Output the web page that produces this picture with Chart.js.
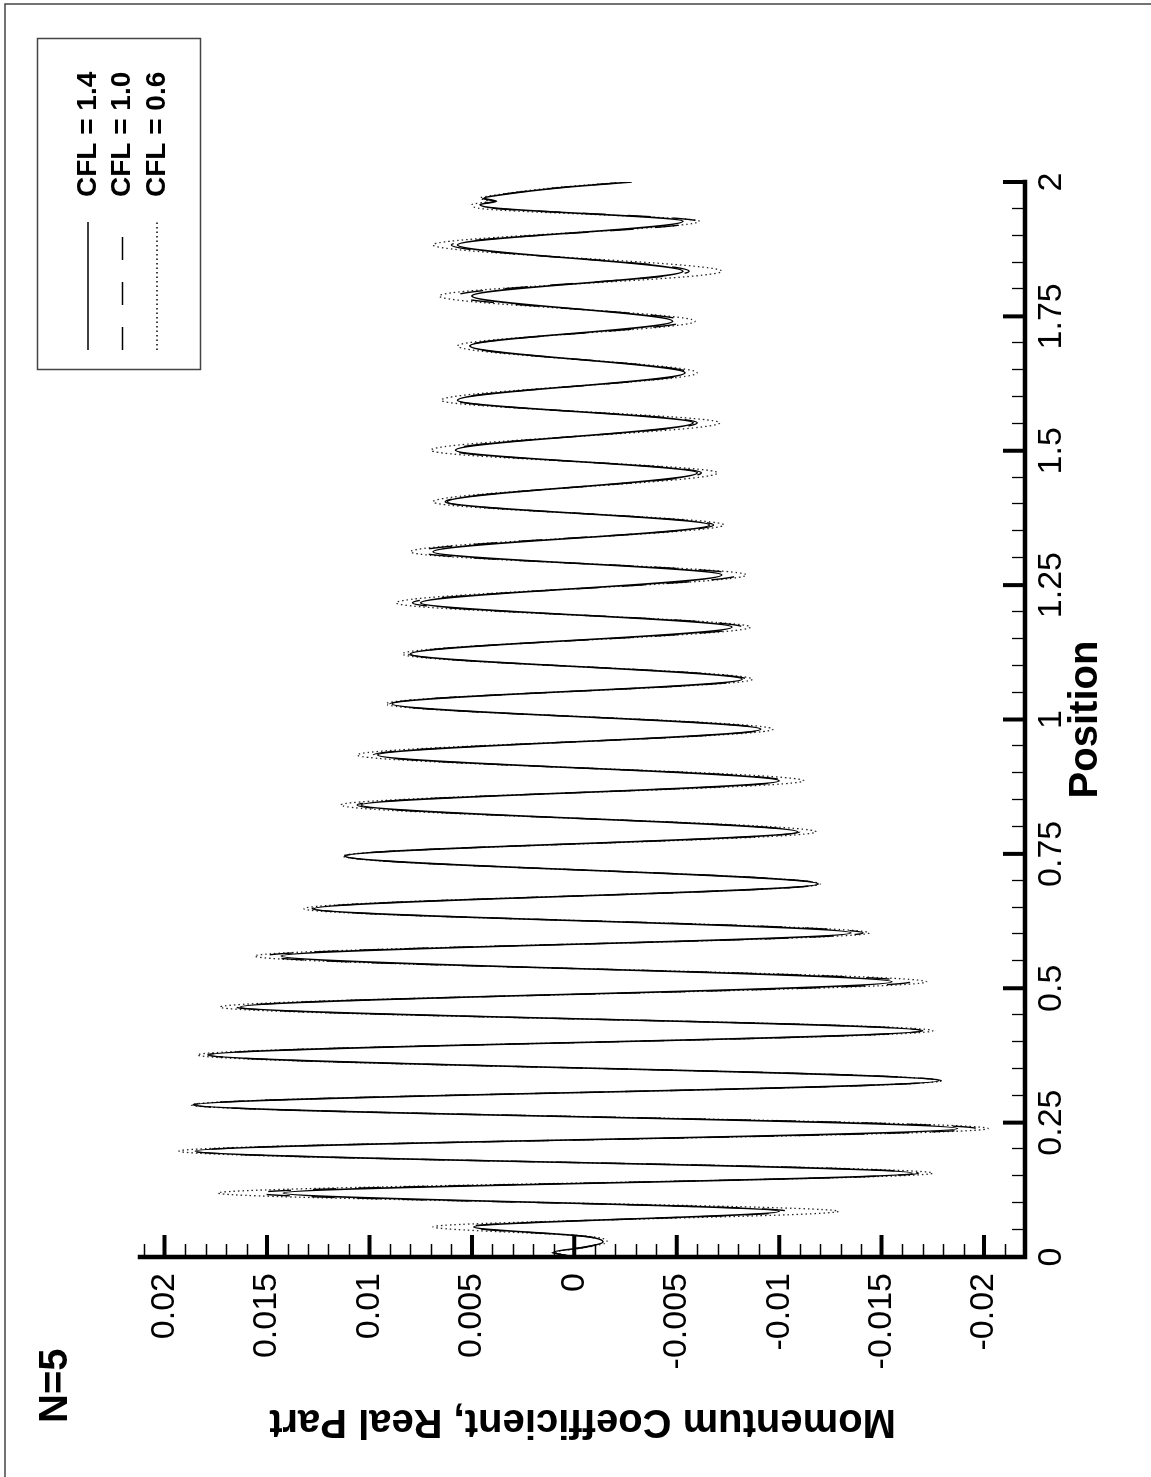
<!DOCTYPE html>
<html>
<head>
<meta charset="utf-8">
<title>Momentum Coefficient, N=5</title>
<script src="https://cdn.jsdelivr.net/npm/chart.js@4.4.0/dist/chart.umd.min.js"></script>
<style>
    html, body { margin: 0; padding: 0; background: #fff; }
    body { width: 1151px; height: 1477px; overflow: hidden; position: relative; }
    /* the chart is drawn landscape and turned a quarter turn */
    div.GraficoMomento { position: absolute; left: 0; top: 0; width: 1477px; height: 1151px;
        transform-origin: 0 0; transform: translate(0, 1477px) rotate(-90deg); }
</style>
</head>
<body>
<div class="GraficoMomento"><canvas id="GraficoMomento" width="1477" height="1151"></canvas></div>
<script>
var posicoes = [0, 0.009, 0.018, 0.028, 0.038,
    0.056, 0.085, 0.119, 0.156, 0.197, 0.239, 0.283, 0.328, 0.376, 0.421,
    0.465, 0.512, 0.560, 0.603, 0.648, 0.694, 0.746, 0.791, 0.841, 0.886,
    0.934, 0.982, 1.029, 1.075, 1.122, 1.172, 1.217, 1.269, 1.312, 1.362,
    1.405, 1.459, 1.501, 1.552, 1.594, 1.645, 1.695, 1.741, 1.788, 1.834,
    1.883, 1.927, 1.952, 1.958, 1.964, 1.970, 1.976, 1.990, 2.0];

var cfl14 = [0, 0.0010, -0.0005, -0.0014, -0.0006,
    0.0049, -0.0100, 0.0142, -0.0165, 0.0185, -0.0187, 0.0185, -0.0178, 0.0178, -0.0169,
    0.0163, -0.0155, 0.0143, -0.0135, 0.0127, -0.0119, 0.0112, -0.0109, 0.0104, -0.0100,
    0.0096, -0.0091, 0.0089, -0.0082, 0.0080, -0.0077, 0.0075, -0.0072, 0.0069, -0.0066,
    0.0062, -0.0060, 0.0058, -0.0058, 0.0057, -0.0054, 0.0051, -0.0048, 0.0050, -0.0053,
    0.0057, -0.0053, 0.0040, 0.0046, 0.0038, 0.0044, 0.0036, 0.0005, -0.0028];

var cfl10 = [0, 0.0011, -0.0004, -0.0015, -0.0006,
    0.0052, -0.0104, 0.0155, -0.0168, 0.0186, -0.0196, 0.0186, -0.0179, 0.0179, -0.0170,
    0.0165, -0.0164, 0.0151, -0.0141, 0.0128, -0.0120, 0.0112, -0.0110, 0.0106, -0.0102,
    0.0098, -0.0092, 0.0090, -0.0084, 0.0081, -0.0082, 0.0079, -0.0080, 0.0076, -0.0068,
    0.0063, -0.0062, 0.0060, -0.0060, 0.0058, -0.0056, 0.0052, -0.0054, 0.0058, -0.0056,
    0.0060, -0.0060, 0.0042, 0.0047, 0.0039, 0.0045, 0.0037, 0.0006, -0.0027];

var cfl06 = [0, 0.0009, -0.0006, -0.0016, -0.0008,
    0.0069, -0.0129, 0.0174, -0.0175, 0.0193, -0.0202, 0.0187, -0.0179, 0.0184, -0.0175,
    0.0173, -0.0172, 0.0156, -0.0144, 0.0132, -0.0120, 0.0113, -0.0118, 0.0114, -0.0112,
    0.0106, -0.0097, 0.0092, -0.0087, 0.0084, -0.0086, 0.0087, -0.0084, 0.0080, -0.0073,
    0.0069, -0.0070, 0.0070, -0.0071, 0.0065, -0.0060, 0.0057, -0.0059, 0.0066, -0.0072,
    0.0069, -0.0061, 0.0048, 0.0050, 0.0042, 0.0046, 0.0038, 0.0008, -0.0026];

var rotulosSeries = ['CFL = 1.4', 'CFL = 1.0', 'CFL = 0.6'];

var ticksPosicao = [0, 0.25, 0.5, 0.75, 1, 1.25, 1.5, 1.75, 2];
var rotulosPosicao = ['0', '0.25', '0.5', '0.75', '1', '1.25', '1.5', '1.75', '2'];
var ticksCoef = [-0.02, -0.015, -0.01, -0.005, 0, 0.005, 0.01, 0.015, 0.02];
var rotulosCoef = ['-0.02', '-0.015', '-0.01', '-0.005', '0', '0.005', '0.01', '0.015', '0.02'];

var FONTE = "'Liberation Sans', Arial, Helvetica, sans-serif";

function PegarPontos(valores) {
    return posicoes.map(function (p, i) { return { x: p, y: valores[i] }; });
}

// ticks pointing into the plot, axis lines, legend box, frame and the N=5 tag
var pluginMoldura = {
    id: 'moldura',
    afterDraw: function (chart) {
        var ctx = chart.ctx;
        var area = chart.chartArea;
        var escX = chart.scales.x;
        var escY = chart.scales.y;
        var k, px, py;

        ctx.save();
        ctx.strokeStyle = '#000';
        ctx.setLineDash([]);

        // minor ticks
        ctx.lineWidth = 1.3;
        ctx.beginPath();
        for (k = 1; k < 40; k++) {
            if (k % 5 === 0) continue;
            px = Math.round(escX.getPixelForValue(k * 0.05)) + 0.5;
            ctx.moveTo(px, area.bottom);
            ctx.lineTo(px, area.bottom - 13);
        }
        for (k = -21; k <= 21; k++) {
            if (k % 5 === 0) continue;
            py = Math.round(escY.getPixelForValue(k / 1000)) + 0.5;
            ctx.moveTo(area.left, py);
            ctx.lineTo(area.left + 13, py);
        }
        ctx.stroke();

        // major ticks
        ctx.lineWidth = 4;
        ctx.beginPath();
        ticksPosicao.forEach(function (v) {
            px = escX.getPixelForValue(v);
            ctx.moveTo(px, area.bottom);
            ctx.lineTo(px, area.bottom - 22);
        });
        ticksCoef.forEach(function (v) {
            py = escY.getPixelForValue(v);
            ctx.moveTo(area.left, py);
            ctx.lineTo(area.left + 22, py);
        });
        ctx.stroke();

        // axis lines
        ctx.lineWidth = 4.5;
        ctx.lineCap = 'square';
        ctx.beginPath();
        ctx.moveTo(area.left, area.top);
        ctx.lineTo(area.left, area.bottom);
        ctx.lineTo(area.right, area.bottom);
        ctx.stroke();
        ctx.lineCap = 'butt';

        // outer frame (only two sides fall inside the page)
        ctx.strokeStyle = '#444';
        ctx.lineWidth = 1.5;
        ctx.strokeRect(-20, 5, 1493, 1170);

        // legend
        ctx.strokeRect(1107.5, 37.5, 331, 163);
        ctx.font = 'bold 28px ' + FONTE;
        ctx.textAlign = 'left';
        ctx.textBaseline = 'middle';
        ctx.fillStyle = '#000';
        chart.data.datasets.forEach(function (ds, i) {
            var y = 88 + i * 34.5;
            ctx.strokeStyle = '#000';
            ctx.lineWidth = ds.borderWidth;
            ctx.setLineDash(ds.borderDash || []);
            ctx.beginPath();
            ctx.moveTo(1127, y);
            ctx.lineTo(1255, y);
            ctx.stroke();
            ctx.setLineDash([]);
            ctx.fillText(ds.label, 1280, y);
        });

        // case tag
        ctx.font = 'bold 40px ' + FONTE;
        ctx.fillText('N=5', 54, 56);
        ctx.restore();
    }
};

var ctx = document.getElementById('GraficoMomento').getContext('2d');

var grafico = new Chart(ctx, {
    type: 'line',
    data: {
        datasets: [{
            label: rotulosSeries[0],
            data: PegarPontos(cfl14),
            borderColor: '#000',
            borderWidth: 1.6,
            borderDash: []
        }, {
            label: rotulosSeries[1],
            data: PegarPontos(cfl10),
            borderColor: '#000',
            borderWidth: 1.4,
            borderDash: [23, 22]
        }, {
            label: rotulosSeries[2],
            data: PegarPontos(cfl06),
            borderColor: '#222',
            borderWidth: 1.3,
            borderDash: [1.5, 3]
        }]
    },
    options: {
        responsive: false,
        animation: false,
        devicePixelRatio: 1,
        elements: {
            point: { radius: 0 },
            line: { cubicInterpolationMode: 'monotone', fill: false }
        },
        layout: { padding: { left: 0, right: 182, top: 140, bottom: 0 } },
        plugins: {
            legend: { display: false },
            tooltip: { enabled: false },
            title: { display: false }
        },
        scales: {
            x: {
                type: 'linear',
                position: 'bottom',
                min: 0,
                max: 2,
                grid: { display: false, drawTicks: false },
                border: { display: false },
                afterBuildTicks: function (escala) {
                    escala.ticks = ticksPosicao.map(function (v) { return { value: v }; });
                },
                afterFit: function (escala) { escala.height = 126; },
                ticks: {
                    autoSkip: false,
                    maxRotation: 0,
                    padding: 6,
                    color: '#000',
                    font: { family: FONTE, size: 34 },
                    callback: function (valor) { return rotulosPosicao[ticksPosicao.indexOf(valor)]; }
                },
                title: {
                    display: true,
                    text: 'Position',
                    color: '#000',
                    font: { family: FONTE, size: 40, weight: 'bold' },
                    padding: { top: 0, bottom: 41 }
                }
            },
            y: {
                type: 'linear',
                position: 'left',
                min: -0.022,
                max: 0.0212,
                grid: { display: false, drawTicks: false },
                border: { display: false },
                afterBuildTicks: function (escala) {
                    escala.ticks = ticksCoef.map(function (v) { return { value: v }; });
                },
                afterFit: function (escala) { escala.width = 220; },
                ticks: {
                    autoSkip: false,
                    padding: 16,
                    color: '#000',
                    font: { family: FONTE, size: 34 },
                    callback: function (valor) { return rotulosCoef[ticksCoef.indexOf(valor)]; }
                },
                title: {
                    display: true,
                    text: 'Momentum Coefficient, Real Part',
                    color: '#000',
                    font: { family: FONTE, size: 40, weight: 'bold' },
                    padding: { top: 32, bottom: 0 }
                }
            }
        }
    },
    plugins: [pluginMoldura]
});
</script>
</body>
</html>
